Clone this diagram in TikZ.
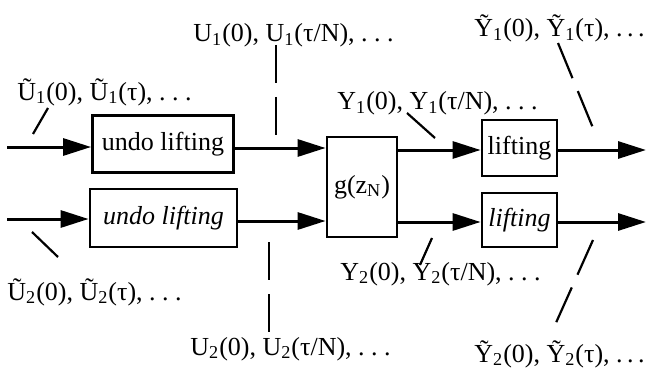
\documentclass[tikz,border=0pt]{standalone}
\usepackage{fontspec}
\setmainfont{Liberation Serif}
\usetikzlibrary{arrows.meta}
\newcommand\lowr[1]{\textsubscript{#1}}
\newcommand\tdots{.\kern2.2pt.\kern2.2pt.}
\begin{document}
\begin{tikzpicture}[x=0.5pt,y=-0.5pt,
  txt/.style={inner sep=0pt,font=\fontsize{13}{15}\selectfont,anchor=base west},
  blk/.style={draw,line width=1.4pt,inner sep=0pt,font=\fontsize{13}{15}\selectfont},
  flow/.style={line width=1.5pt,-{Triangle[length=14pt,width=8.5pt]}},
  tick/.style={line width=1.1pt},
  dtick/.style={line width=1.1pt,dash pattern=on 19pt off 7pt}]
\useasboundingbox (0,0) rectangle (647,374);
% blocks
\node[blk,minimum width=70.5pt,minimum height=28.5pt] (u1) at (163,144) {undo lifting};
\node[blk,minimum width=73.5pt,minimum height=29pt] (u2) at (163.5,218) {\itshape undo lifting};
\node[blk,minimum width=35pt,minimum height=50pt] (g) at (362,187) {g(z\lowr{N})};
\node[blk,minimum width=37.5pt,minimum height=28pt] (l1) at (519.5,148) {lifting};
\node[blk,minimum width=37.5pt,minimum height=27pt] (l2) at (519.5,220) {\itshape lifting};
% ends
\coordinate (in1) at (7,147);
\coordinate (in2) at (7,219);
\coordinate (out1) at (646,150);
\coordinate (out2) at (646,222);
% flows
\draw[flow] (in1) -- (in1 -| u1.west);
\draw[flow] (in2) -- (in2 -| u2.west);
\draw[flow] (u1.east |- 0,148) -- (g.west |- 0,148);
\draw[flow] (u2.east |- 0,221) -- (g.west |- 0,221);
\draw[flow] (g.east |- 0,150) -- (l1.west |- 0,150);
\draw[flow] (g.east |- 0,222) -- (l2.west |- 0,222);
\draw[flow] (l1.east |- out1) -- (out1);
\draw[flow] (l2.east |- out2) -- (out2);
% labels
\node[txt] (tU1) at (17,100) {Ũ\lowr{1}(0), Ũ\lowr{1}(τ), .\ .\ .};
\node[txt] (U1) at (193,42) {U\lowr{1}(0), U\lowr{1}(τ/N), .\ .\ .};
\node[txt] (Y1) at (337,110) {Y\lowr{1}(0), Y\lowr{1}(τ/N), .\ .\ .};
\node[txt] (tY1) at (474,37) {Ỹ\lowr{1}(0), Ỹ\lowr{1}(τ), \tdots};
\node[txt] (tU2) at (7,300) {Ũ\lowr{2}(0), Ũ\lowr{2}(τ), .\ .\ .};
\node[txt] (U2) at (190,355) {U\lowr{2}(0), U\lowr{2}(τ/N), .\ .\ .};
\node[txt] (Y2) at (340,280) {Y\lowr{2}(0), Y\lowr{2}(τ/N), .\ .\ .};
\node[txt] (tY2) at (474,362) {Ỹ\lowr{2}(0), Ỹ\lowr{2}(τ), \tdots};
% pointer coordinates
\coordinate (a1) at (48,108); \coordinate (a2) at (33,134);
\coordinate (b1) at (32,232); \coordinate (b2) at (58,257);
\coordinate (c1) at (407,113); \coordinate (c2) at (435,138);
\coordinate (d1) at (432,238); \coordinate (d2) at (420,265);
\coordinate (e1) at (276,45); \coordinate (e2) at (276,137);
\coordinate (f1) at (269,242); \coordinate (f2) at (269,335);
\coordinate (h1) at (558,43); \coordinate (h2) at (593,128);
\coordinate (k1) at (593,240); \coordinate (k2) at (555,325);
\draw[tick] (a1) -- (a2);
\draw[tick] (b1) -- (b2);
\draw[tick] (c1) -- (c2);
\draw[tick] (d1) -- (d2);
\draw[dtick] (e1) -- (e2);
\draw[dtick] (f1) -- (f2);
\draw[dtick] (h1) -- (h2);
\draw[dtick] (k1) -- (k2);
\end{tikzpicture}
\end{document}
